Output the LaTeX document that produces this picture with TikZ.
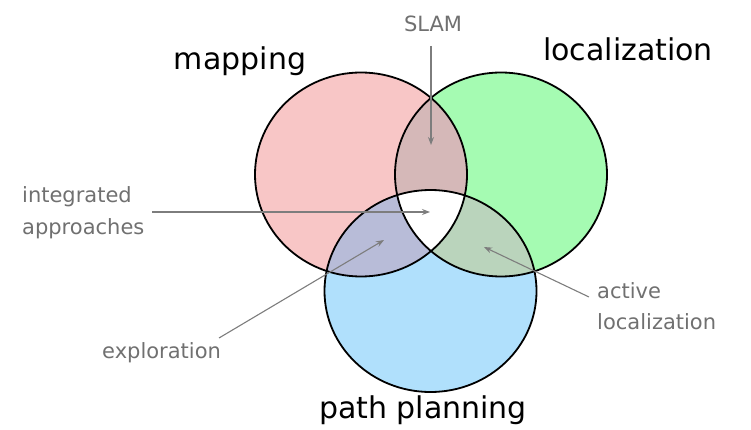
\documentclass[tikz,border=0pt]{standalone}
\usepackage{fontspec}
\setmainfont{DejaVu Sans}
\usetikzlibrary{arrows.meta}
\definecolor{cred}{RGB}{248,198,198}
\definecolor{cgreen}{RGB}{165,251,178}
\definecolor{cblue}{RGB}{176,224,252}
\definecolor{crg}{RGB}{213,184,184}
\definecolor{crb}{RGB}{184,188,216}
\definecolor{cgb}{RGB}{186,212,188}
\definecolor{labgray}{RGB}{112,112,112}
\definecolor{arrgray}{RGB}{125,125,125}
\tikzset{
  big/.style={font=\fontsize{30}{36}\selectfont, text=black, inner sep=0pt},
  lab/.style={font=\fontsize{21}{26}\selectfont, text=labgray, inner sep=0pt},
  arr/.style={draw=arrgray, line width=1.1pt, -{Stealth[length=8pt,width=6pt]}},
  rim/.style={draw=black, line width=1.8pt}
}
\begin{document}
\begin{tikzpicture}[x=1pt,y=-1pt]
\useasboundingbox (0,0) rectangle (751,430);
% fills
\fill[cred] (361,174.5) ellipse [x radius=106, y radius=102];
\fill[cgreen] (501,174.5) ellipse [x radius=106, y radius=102];
\fill[cblue] (430.5,291) ellipse [x radius=106, y radius=101];
\begin{scope}
  \clip (361,174.5) ellipse [x radius=106, y radius=102];
  \fill[crg] (501,174.5) ellipse [x radius=106, y radius=102];
  \fill[crb] (430.5,291) ellipse [x radius=106, y radius=101];
\end{scope}
\begin{scope}
  \clip (501,174.5) ellipse [x radius=106, y radius=102];
  \fill[cgb] (430.5,291) ellipse [x radius=106, y radius=101];
  \clip (361,174.5) ellipse [x radius=106, y radius=102];
  \fill[white] (430.5,291) ellipse [x radius=106, y radius=101];
\end{scope}
% outlines
\draw[rim] (361,174.5) ellipse [x radius=106, y radius=102];
\draw[rim] (501,174.5) ellipse [x radius=106, y radius=102];
\draw[rim] (430.5,291) ellipse [x radius=106, y radius=101];
% big labels
\node[big, anchor=base] (map) at (240,70) {mapping};
\node[big, anchor=base] (loc) at (628,61) {localization};
\node[big, anchor=base] (pp) at (423,418) {path planning};
% small labels
\node[lab, anchor=base] (slam) at (433,32) {SLAM};
\node[lab, anchor=base west] (ia1) at (22,203) {integrated};
\node[lab, anchor=base west] (ia2) at (22,234) {approaches};
\node[lab, anchor=base west] (expl) at (102,358) {exploration};
\node[lab, anchor=base west] (al1) at (597,298) {active};
\node[lab, anchor=base west] (al2) at (597,329) {localization};
% arrow ends
\coordinate (slamS) at (431,46);
\coordinate (slamT) at (431,145);
\coordinate (iaS) at (152,212);
\coordinate (iaT) at (430,212);
\coordinate (exS) at (219,338);
\coordinate (exT) at (384,240);
\coordinate (alS) at (589,297);
\coordinate (alT) at (484,247);
% arrows
\draw[arr] (slamS) -- (slamT);
\draw[arr] (iaS) -- (iaT);
\draw[arr] (exS) -- (exT);
\draw[arr] (alS) -- (alT);
\end{tikzpicture}
\end{document}
